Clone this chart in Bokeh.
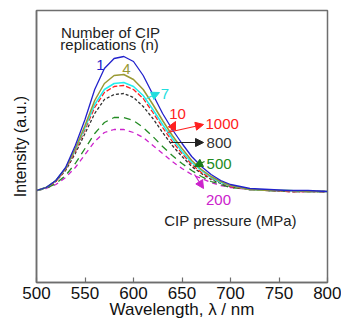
from bokeh.plotting import figure
from bokeh.models import Range1d, FixedTicker, Arrow, NormalHead, Label
from bokeh.embed import file_html
from bokeh.resources import INLINE

wavelength = [500, 510, 520, 530, 540, 550, 560, 570, 580, 590, 600, 610, 620,
              630, 640, 650, 660, 670, 680, 690, 700, 720, 740, 760, 780, 800]

n1 = [0.92, 0.95, 1.02, 1.15, 1.37, 1.63, 1.93, 2.14, 2.24, 2.26, 2.21, 2.07, 1.88,
      1.69, 1.53, 1.39, 1.26, 1.16, 1.08, 1.02, 0.98, 0.94, 0.93, 0.92, 0.92, 0.91]
n4 = [0.92, 0.95, 1.02, 1.14, 1.34, 1.57, 1.82, 1.99, 2.07, 2.08, 2.03, 1.93, 1.78,
      1.62, 1.47, 1.34, 1.22, 1.13, 1.06, 1.01, 0.97, 0.93, 0.92, 0.92, 0.91, 0.91]
n7 = [0.92, 0.95, 1.02, 1.14, 1.33, 1.55, 1.78, 1.93, 1.99, 2.00, 1.96, 1.87, 1.73,
      1.58, 1.44, 1.31, 1.20, 1.12, 1.05, 1.00, 0.97, 0.93, 0.92, 0.92, 0.91, 0.91]
n10_p1000 = [0.92, 0.95, 1.01, 1.13, 1.31, 1.53, 1.75, 1.90, 1.96, 1.97, 1.93, 1.84, 1.70,
             1.55, 1.41, 1.29, 1.18, 1.10, 1.04, 1.00, 0.96, 0.93, 0.92, 0.91, 0.91, 0.91]
p800 = [0.92, 0.95, 1.01, 1.12, 1.29, 1.49, 1.69, 1.83, 1.88, 1.89, 1.85, 1.76, 1.64,
        1.50, 1.37, 1.26, 1.16, 1.09, 1.03, 0.99, 0.96, 0.93, 0.92, 0.91, 0.91, 0.91]
p500 = [0.92, 0.94, 0.99, 1.07, 1.19, 1.34, 1.49, 1.60, 1.65, 1.65, 1.62, 1.55, 1.46,
        1.36, 1.27, 1.19, 1.12, 1.06, 1.01, 0.98, 0.95, 0.93, 0.92, 0.91, 0.91, 0.91]
p200 = [0.92, 0.94, 0.98, 1.05, 1.15, 1.28, 1.41, 1.50, 1.53, 1.53, 1.50, 1.45, 1.37,
        1.29, 1.21, 1.14, 1.08, 1.04, 1.00, 0.97, 0.95, 0.93, 0.92, 0.91, 0.91, 0.90]

x_ticks = [500, 550, 600, 650, 700, 750, 800]

FONT = "Liberation Sans"
FRAME = "#6e6e6e"

p = figure(width=341, height=321, output_backend="svg", toolbar_location=None,
           x_range=Range1d(500, 800), y_range=Range1d(0, 2.72),
           min_border_left=36, min_border_right=14, min_border_top=10,
           min_border_bottom=39)
p.grid.visible = False
p.outline_line_color = FRAME
p.outline_line_width = 1.5
p.background_fill_color = "white"
p.border_fill_color = "white"

# x axis
p.xaxis.ticker = FixedTicker(ticks=x_ticks)
p.xaxis.major_tick_in = 5
p.xaxis.major_tick_out = 0
p.xaxis.minor_tick_line_color = None
p.xaxis.major_tick_line_color = FRAME
p.xaxis.major_tick_line_width = 1.2
p.xaxis.axis_line_color = FRAME
p.xaxis.axis_line_width = 1.5
p.xaxis.major_label_text_font = FONT
p.xaxis.major_label_text_font_size = "17px"
p.xaxis.major_label_text_color = "#111111"
p.xaxis.major_label_standoff = 4
p.xaxis.axis_label = "Wavelength, \u03bb / nm"
p.xaxis.axis_label_text_font = FONT
p.xaxis.axis_label_text_font_size = "17px"
p.xaxis.axis_label_text_font_style = "normal"
p.xaxis.axis_label_text_color = "#111111"
p.xaxis.axis_label_standoff = -2

# y axis
p.yaxis.ticker = FixedTicker(ticks=[])
p.yaxis.major_tick_in = 0
p.yaxis.major_tick_out = 0
p.yaxis.minor_tick_line_color = None
p.yaxis.axis_line_color = FRAME
p.yaxis.axis_line_width = 1.5
p.yaxis.major_label_text_font_size = "0px"
p.yaxis.axis_label = "Intensity (a.u.)"
p.yaxis.axis_label_text_font = FONT
p.yaxis.axis_label_text_font_size = "16px"
p.yaxis.axis_label_text_font_style = "normal"
p.yaxis.axis_label_text_color = "#111111"
p.yaxis.axis_label_standoff = 8

# curves (draw lower ones first)
p.line(wavelength, p200, line_color="#cc22cc", line_width=1.3, line_dash="5 4")
p.line(wavelength, p500, line_color="#228b22", line_width=1.3, line_dash="7 5")
p.line(wavelength, p800, line_color="#333333", line_width=1.3, line_dash="3 2")
p.line(wavelength, n10_p1000, line_color="#ff2020", line_width=1.3, line_dash="5 2")
p.line(wavelength, n7, line_color="#22eeee", line_width=1.5)
p.line(wavelength, n4, line_color="#999933", line_width=1.5)
p.line(wavelength, n1, line_color="#2222cc", line_width=1.3)

def lab(x, y, txt, color, align="center", size="15px"):
    p.add_layout(Label(x=x, y=y, text=txt, text_color=color, text_font=FONT,
                       text_font_size=size, text_align=align,
                       text_baseline="middle"))

def arr(x0, y0, x1, y1, color):
    p.add_layout(Arrow(x_start=x0, y_start=y0, x_end=x1, y_end=y1,
                       line_color=color, line_width=1.2,
                       end=NormalHead(size=8, fill_color=color, line_color=color)))

lab(576.3, 2.50, "Number of CIP", "#222222")
lab(575.3, 2.38, "replications (n)", "#222222")
lab(566, 2.18, "1", "#2222cc")
lab(592.8, 2.14, "4", "#999933")
lab(632.5, 1.89, "7", "#22dddd")
lab(645.4, 1.69, "10", "#ff2020")
lab(674.2, 1.59, "1000", "#ff2020", align="left")
lab(675.3, 1.40, "800", "#333333", align="left")
lab(675.3, 1.19, "500", "#228b22", align="left")
lab(687.6, 0.83, "200", "#cc22cc")
lab(700, 0.62, "CIP pressure (MPa)", "#222222")

arr(613.4, 1.84, 626.8, 1.90, "#22dddd")
arr(638.1, 1.51, 643.3, 1.61, "#ff2020")
arr(635.0, 1.50, 672.2, 1.58, "#ff2020")
arr(638.1, 1.40, 672.2, 1.40, "#222222")
arr(673.2, 1.21, 662.9, 1.16, "#1a7a1a")
arr(662.9, 1.08, 672.2, 0.94, "#cc22cc")

open("out.html", "w").write(file_html(p, INLINE))
